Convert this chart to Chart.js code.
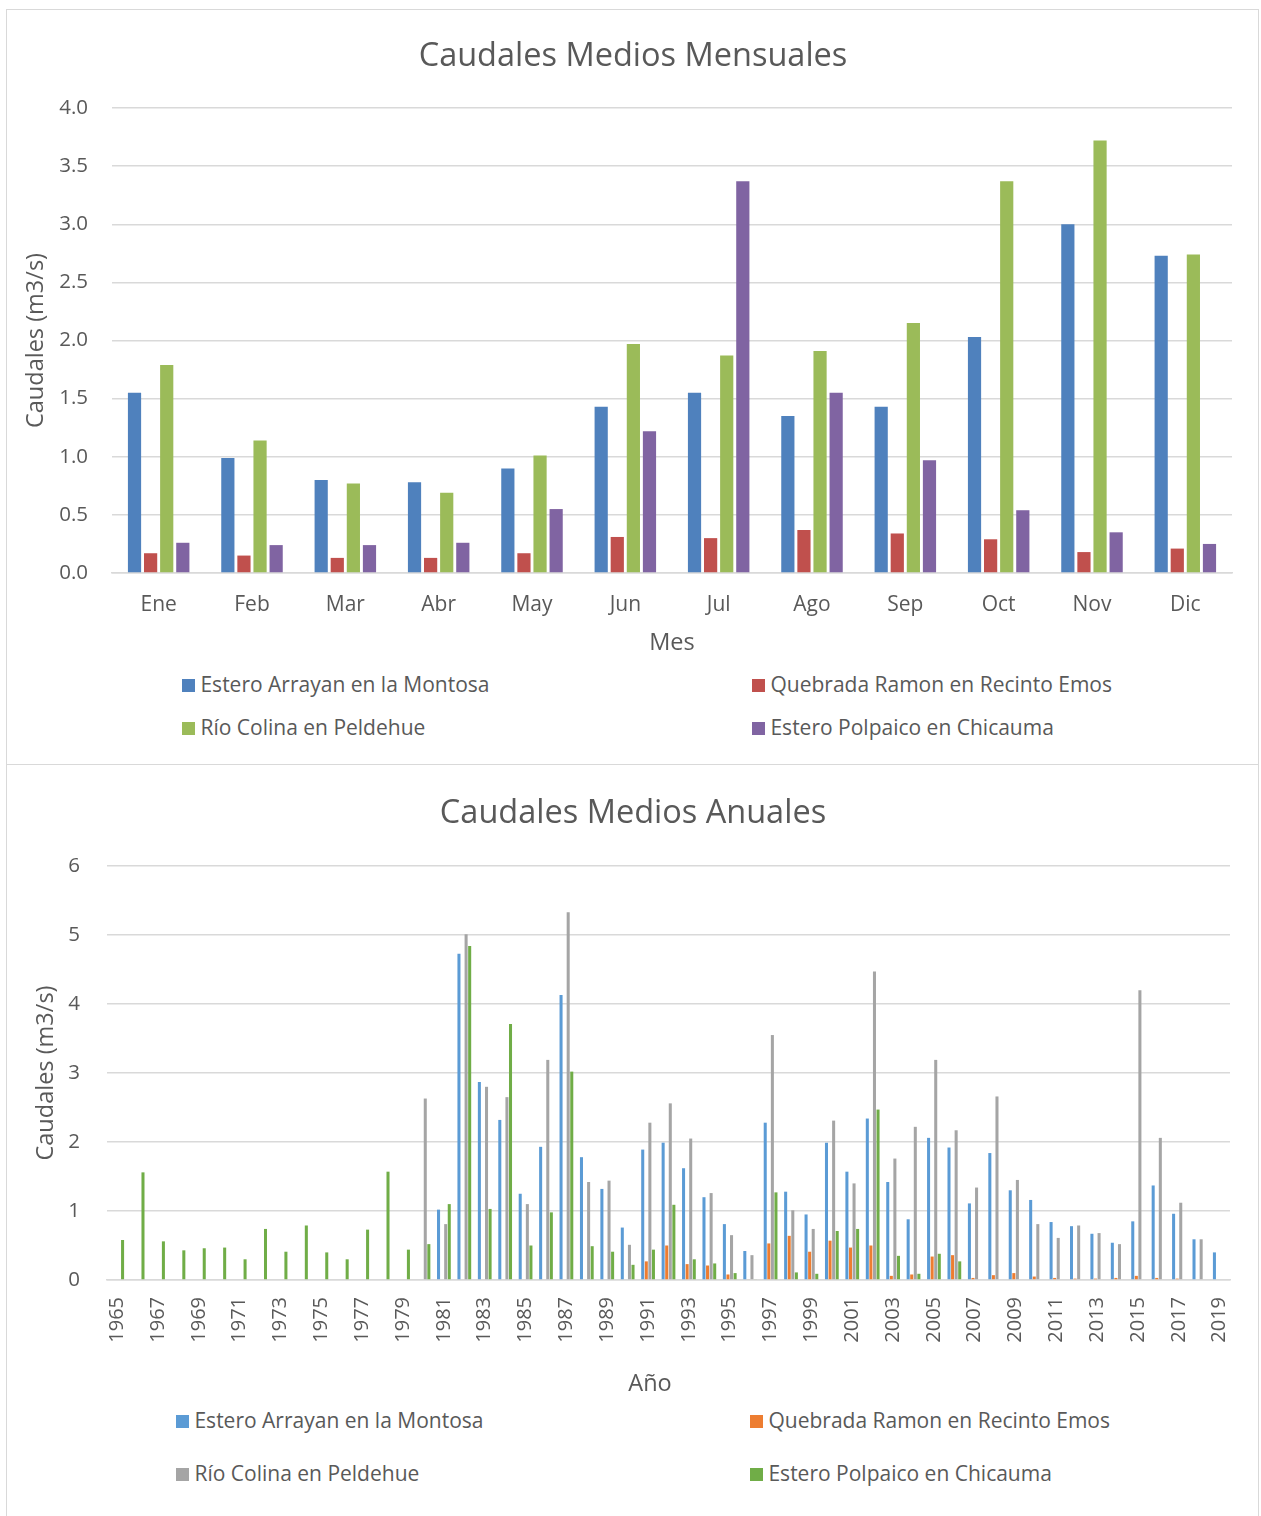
<!DOCTYPE html>
<html>
<head>
<meta charset="utf-8">
<script src="https://cdn.jsdelivr.net/npm/chart.js@4.4.1/dist/chart.umd.min.js"></script>
<style>
  body { margin: 0; background: #fff; font-family: "Open Sans", sans-serif; color: #595959; }
  .box { position: absolute; left: 6px; width: 1251px; border: 1px solid #d9d9d9; background: #fff; }
  #box1 { top: 9px; height: 754px; }
  #box2 { top: 764px; height: 760px; }
  .wrap { position: absolute; left: 0; top: 0; width: 1251px; }
  .txt { position: absolute; white-space: nowrap; transform: translate(-50%, -50%); }
  .titulo { font-size: 32.5px; }
  .eje { font-size: 23.5px; }
  .item { position: absolute; white-space: nowrap; font-size: 21px; line-height: 26px; }
  .item span { display: inline-block; width: 13px; height: 13px; vertical-align: 0px; }
</style>
</head>
<body>
<div class="box" id="box1">
  <div class="wrap" style="height:655px"><canvas id="mensual"></canvas></div>
</div>
<div class="box" id="box2">
  <div class="wrap" style="height:640px"><canvas id="anual"></canvas></div>
</div>
<div class="txt titulo" style="left:633px; top:53px">Caudales Medios Mensuales</div>
<div class="txt titulo" style="left:633px; top:810px">Caudales Medios Anuales</div>
<div class="txt eje" style="left:650px; top:1382px">Año</div>

<script>
const months = ["Ene", "Feb", "Mar", "Abr", "May", "Jun", "Jul", "Ago", "Sep", "Oct", "Nov", "Dic"];
const arrayanMes = [1.55, 0.99, 0.80, 0.78, 0.90, 1.43, 1.55, 1.35, 1.43, 2.03, 3.00, 2.73];
const ramonMes = [0.17, 0.15, 0.13, 0.13, 0.17, 0.31, 0.30, 0.37, 0.34, 0.29, 0.18, 0.21];
const colinaMes = [1.79, 1.14, 0.77, 0.69, 1.01, 1.97, 1.87, 1.91, 2.15, 3.37, 3.72, 2.74];
const polpaicoMes = [0.26, 0.24, 0.24, 0.26, 0.55, 1.22, 3.37, 1.55, 0.97, 0.54, 0.35, 0.25];

const years = [
  "1965", "1966", "1967", "1968", "1969", "1970", "1971", "1972", "1973", "1974",
  "1975", "1976", "1977", "1978", "1979", "1980", "1981", "1982", "1983", "1984",
  "1985", "1986", "1987", "1988", "1989", "1990", "1991", "1992", "1993", "1994",
  "1995", "1996", "1997", "1998", "1999", "2000", "2001", "2002", "2003", "2004",
  "2005", "2006", "2007", "2008", "2009", "2010", "2011", "2012", "2013", "2014",
  "2015", "2016", "2017", "2018", "2019"
];
const arrayanAnio = [
  null, null, null, null, null, null, null, null, null, null,
  null, null, null, null, null, null, 1.02, 4.73, 2.87, 2.32,
  1.25, 1.93, 4.13, 1.78, 1.32, 0.76, 1.89, 1.99, 1.62, 1.20,
  0.81, 0.42, 2.28, 1.28, 0.95, 1.99, 1.57, 2.34, 1.42, 0.88,
  2.06, 1.92, 1.11, 1.84, 1.30, 1.16, 0.84, 0.78, 0.67, 0.54,
  0.85, 1.37, 0.96, 0.59, 0.40
];
const ramonAnio = [
  null, null, null, null, null, null, null, null, null, null,
  null, null, null, null, null, null, null, null, null, null,
  null, null, null, null, null, null, 0.27, 0.50, 0.23, 0.21,
  0.08, 0.01, 0.53, 0.64, 0.41, 0.57, 0.47, 0.50, 0.06, 0.08,
  0.34, 0.36, 0.03, 0.07, 0.10, 0.05, 0.03, 0.02, 0.02, 0.03,
  0.06, 0.03, 0.02, null, null
];
const colinaAnio = [
  null, null, null, null, null, null, null, null, null, null,
  null, null, null, null, null, 2.63, 0.81, 5.01, 2.80, 2.65,
  1.10, 3.19, 5.33, 1.42, 1.44, 0.51, 2.28, 2.56, 2.05, 1.26,
  0.65, 0.36, 3.55, 1.01, 0.74, 2.31, 1.40, 4.47, 1.76, 2.22,
  3.19, 2.17, 1.34, 2.66, 1.45, 0.81, 0.61, 0.79, 0.68, 0.52,
  4.20, 2.06, 1.12, 0.59, null
];
const polpaicoAnio = [
  0.58, 1.56, 0.56, 0.43, 0.46, 0.47, 0.30, 0.74, 0.41, 0.79,
  0.40, 0.30, 0.73, 1.57, 0.44, 0.52, 1.10, 4.84, 1.03, 3.71,
  0.50, 0.98, 3.02, 0.49, 0.41, 0.22, 0.44, 1.09, 0.30, 0.24,
  0.10, 0.01, 1.27, 0.11, 0.09, 0.71, 0.74, 2.47, 0.35, 0.09,
  0.38, 0.27, null, null, null, null, null, null, null, null,
  null, null, null, null, null
];

const seriesNames = [
  "Estero Arrayan en la Montosa",
  "Quebrada Ramon en Recinto Emos",
  "Río Colina en Peldehue",
  "Estero Polpaico en Chicauma"
];
const coloresMes = ["#4F81BD", "#C0504D", "#9BBB59", "#8064A2"];
const coloresAnio = ["#5B9BD5", "#ED7D31", "#A5A5A5", "#70AD47"];

const textColor = "#595959";
const gridColor = "#d9d9d9";
Chart.defaults.font.family = "'Open Sans', sans-serif";
Chart.defaults.color = textColor;

function datasets(values, colors) {
  return values.map((v, i) => ({
    label: seriesNames[i],
    data: v,
    backgroundColor: colors[i],
    borderWidth: 0,
  }));
}

// grafico mensual
new Chart(document.getElementById("mensual"), {
  type: "bar",
  data: {
    labels: months,
    datasets: datasets([arrayanMes, ramonMes, colinaMes, polpaicoMes], coloresMes),
  },
  options: {
    responsive: true,
    maintainAspectRatio: false,
    animation: false,
    categoryPercentage: 0.69,
    barPercentage: 0.82,
    layout: { padding: { left: 0, right: 26, top: 98, bottom: 0 } },
    plugins: {
      legend: { display: false },
      tooltip: { enabled: false },
    },
    scales: {
      x: {
        grid: { display: false, drawTicks: false },
        border: { color: gridColor, width: 1.5 },
        ticks: { color: textColor, font: { size: 21 }, padding: 19.4 },
        title: {
          display: true,
          text: "Mes",
          color: textColor,
          font: { size: 23.5 },
          padding: { top: 0, bottom: 7.9 },
        },
        afterFit: (scale) => { scale.height = 92; },
      },
      y: {
        min: 0,
        max: 4,
        ticks: {
          stepSize: 0.5,
          color: textColor,
          font: { size: 20.5 },
          padding: 24,
          callback: (v) => v.toFixed(1),
        },
        grid: { color: gridColor, lineWidth: 1.5, drawTicks: false },
        border: { display: false },
        title: {
          display: true,
          text: "Caudales (m3/s)",
          color: textColor,
          font: { size: 23.5 },
          padding: { top: 14.9, bottom: 0 },
        },
        afterFit: (scale) => { scale.width = 105; },
      },
    },
  },
});

// grafico anual
new Chart(document.getElementById("anual"), {
  type: "bar",
  data: {
    labels: years,
    datasets: datasets([arrayanAnio, ramonAnio, colinaAnio, polpaicoAnio], coloresAnio),
  },
  options: {
    responsive: true,
    maintainAspectRatio: false,
    animation: false,
    categoryPercentage: 0.7,
    barPercentage: 0.85,
    layout: { padding: { left: 0, right: 28, top: 101, bottom: 0 } },
    plugins: {
      legend: { display: false },
      tooltip: { enabled: false },
    },
    scales: {
      x: {
        grid: { display: false, drawTicks: false },
        border: { color: gridColor, width: 1.5 },
        ticks: {
          color: textColor,
          font: { size: 20 },
          padding: 17,
          autoSkip: false,
          minRotation: 90,
          maxRotation: 90,
          callback: function (v, i) { return i % 2 === 0 ? this.getLabelForValue(v) : ""; },
        },
        afterFit: (scale) => {
          scale.height = 125;
          scale.paddingLeft = 0;
          scale.paddingRight = 0;
        },
      },
      y: {
        min: 0,
        max: 6,
        ticks: { stepSize: 1, color: textColor, font: { size: 20.5 }, padding: 27 },
        grid: { color: gridColor, lineWidth: 1.5, drawTicks: false },
        border: { display: false },
        title: {
          display: true,
          text: "Caudales (m3/s)",
          color: textColor,
          font: { size: 23.5 },
          padding: { top: 24.9, bottom: 0 },
        },
        afterFit: (scale) => { scale.width = 100; },
      },
    },
  },
});

// leyendas (2 columnas, como en Excel)
function legend(colors, rows, cols) {
  seriesNames.forEach((name, i) => {
    const el = document.createElement("div");
    el.className = "item";
    el.style.left = cols[i % 2] + "px";
    el.style.top = (rows[Math.floor(i / 2)] - 13) + "px";
    el.innerHTML = '<span style="background:' + colors[i] + '"></span> ' + name;
    document.body.appendChild(el);
  });
}
legend(coloresMes, [684, 727], [182, 752]);
legend(coloresAnio, [1420, 1473], [176, 750]);
</script>
</body>
</html>
